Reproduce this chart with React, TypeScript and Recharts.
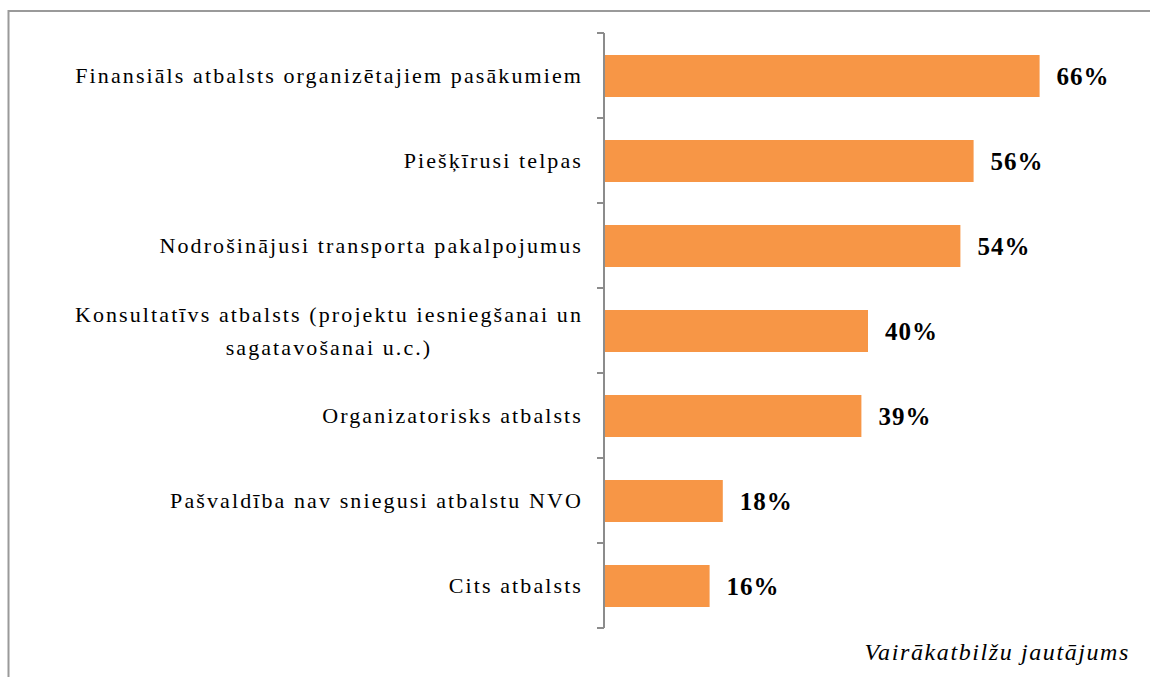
import React from "react";
import { BarChart, Bar, XAxis, YAxis, LabelList } from "recharts";

const categories = [
  "Finansiāls atbalsts organizētajiem pasākumiem",
  "Piešķīrusi telpas",
  "Nodrošinājusi transporta pakalpojumus",
  "Konsultatīvs atbalsts (projektu iesniegšanai un\nsagatavošanai u.c.)",
  "Organizatorisks atbalsts",
  "Pašvaldība nav sniegusi atbalstu NVO",
  "Cits atbalsts",
];
const values = [66, 56, 54, 40, 39, 18, 16];
const footnote = "Vairākatbilžu jautājums";

const data = categories.map((name, i) => ({ name, value: values[i] }));

const W = 1150;
const H = 677;
const MARGIN = { top: 33, right: 84, bottom: 49, left: 0 };
const YAXIS_W = 604;
const PLOT_H = H - MARGIN.top - MARGIN.bottom;
const BAND = PLOT_H / categories.length;
const LABEL_FONT = "22px 'Liberation Serif'";
const LABEL_SPACING = 2.1;
const LINE_H = 33;

let measureCtx: CanvasRenderingContext2D | null = null;
function measure(text: string): number {
  if (!measureCtx) {
    const c = document.createElement("canvas");
    measureCtx = c.getContext("2d");
  }
  if (!measureCtx) return text.length * 10;
  measureCtx.font = LABEL_FONT;
  return measureCtx.measureText(text).width + LABEL_SPACING * text.length;
}

function CategoryTick(props: any) {
  const { y, payload, index } = props;
  const axisX = YAXIS_W;
  const labelX = axisX - 21;
  const lines = String(payload.value).split("\n");
  const blockW = Math.max(...lines.map(measure));
  const startY = y - ((lines.length - 1) * LINE_H) / 2;
  const isLast = index === categories.length - 1;
  return (
    <g>
      <line x1={axisX - 7} x2={axisX} y1={y - BAND / 2} y2={y - BAND / 2} stroke="#8c8c8c" strokeWidth={2} />
      {isLast && (
        <line x1={axisX - 7} x2={axisX} y1={y + BAND / 2} y2={y + BAND / 2} stroke="#8c8c8c" strokeWidth={2} />
      )}
      {lines.map((ln, i) => (
        <text
          key={i}
          x={lines.length > 1 ? labelX - blockW / 2 : labelX}
          y={startY + i * LINE_H}
          textAnchor={lines.length > 1 ? "middle" : "end"}
          dominantBaseline="central"
          fontFamily="'Liberation Serif', 'Times New Roman', serif"
          fontSize={22}
          letterSpacing={LABEL_SPACING}
          fill="#000"
        >
          {ln}
        </text>
      ))}
    </g>
  );
}

function ValueLabel(props: any) {
  const { x, y, width, height, value } = props;
  return (
    <text
      x={Number(x) + Number(width) + 17}
      y={Number(y) + Number(height) / 2}
      dominantBaseline="central"
      fontFamily="'Liberation Serif', 'Times New Roman', serif"
      fontSize={25}
      fontWeight="bold"
      letterSpacing={1}
      fill="#000"
    >
      {`${value}%`}
    </text>
  );
}

export default function App() {
  return (
    <div style={{ position: "absolute", left: 0, top: 0, width: W, height: H, overflow: "hidden", background: "#fff" }}>
      <BarChart layout="vertical" width={W} height={H} data={data} margin={MARGIN}>
        <XAxis type="number" domain={[0, 70]} hide />
        <YAxis
          type="category"
          dataKey="name"
          width={YAXIS_W}
          axisLine={{ stroke: "#8c8c8c", strokeWidth: 2 }}
          tickLine={false}
          interval={0}
          tick={<CategoryTick />}
        />
        <Bar dataKey="value" fill="#F79646" barSize={42} isAnimationActive={false}>
          <LabelList dataKey="value" content={<ValueLabel />} />
        </Bar>
      </BarChart>
      <svg width={W} height={H} style={{ position: "absolute", left: 0, top: 0, pointerEvents: "none" }}>
        <path d={`M8.5,${H} V11 H${W}`} fill="none" stroke="#9a9a9a" strokeWidth={2} />
        <text
          x={1130}
          y={660}
          textAnchor="end"
          fontFamily="'Liberation Serif', 'Times New Roman', serif"
          fontStyle="italic"
          fontSize={24}
          letterSpacing={1.6}
          fill="#000"
        >
          {footnote}
        </text>
      </svg>
    </div>
  );
}
